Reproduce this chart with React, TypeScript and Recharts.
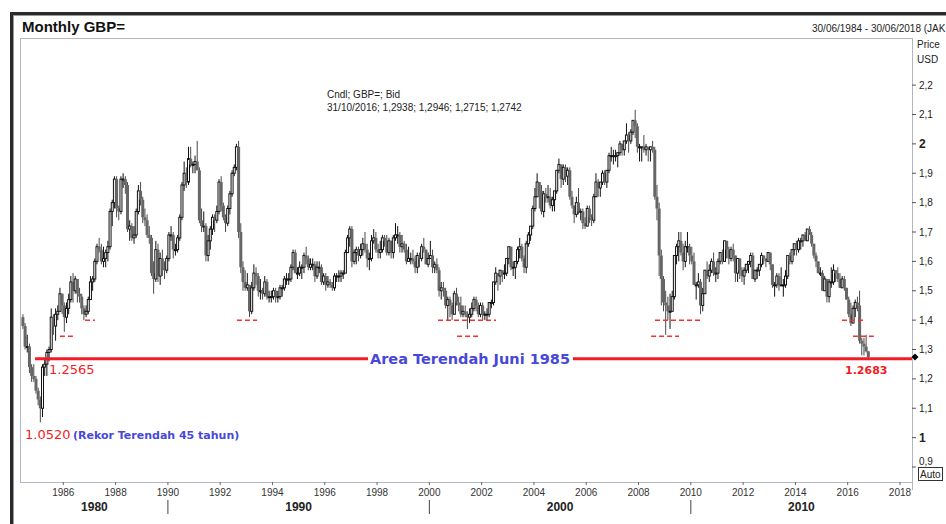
import React from 'react';
import { ComposedChart, Bar, XAxis, YAxis, ReferenceLine, ReferenceDot } from 'recharts';

// monthly candles, each row is [high, low, close]; open = previous close
type HLC = [number, number, number];

const firstOpen = 1.41;
const startYear = 1984;
const startMonth = 6;

const y1984: HLC[] = [[1.42,1.37,1.38],[1.39,1.30,1.31],[1.35,1.29,1.31],[1.32,1.22,1.24],[1.25,1.19,1.21],[1.25,1.19,1.20],[1.21,1.15,1.16]];
const y1985: HLC[] = [[1.17,1.11,1.13],[1.14,1.052,1.10],[1.25,1.07,1.24],[1.27,1.21,1.25],[1.30,1.21,1.29],[1.31,1.26,1.30],[1.44,1.29,1.41],[1.42,1.35,1.38],[1.44,1.33,1.42],[1.45,1.40,1.43],[1.51,1.43,1.49],[1.49,1.42,1.45]];
const y1986: HLC[] = [[1.46,1.36,1.41],[1.46,1.39,1.44],[1.49,1.42,1.47],[1.55,1.46,1.53],[1.56,1.46,1.50],[1.55,1.49,1.54],[1.54,1.46,1.49],[1.51,1.46,1.48],[1.49,1.42,1.44],[1.45,1.40,1.42],[1.45,1.41,1.43],[1.48,1.42,1.47]];
const y1987: HLC[] = [[1.55,1.47,1.53],[1.55,1.50,1.54],[1.61,1.53,1.60],[1.66,1.59,1.65],[1.68,1.63,1.64],[1.66,1.59,1.60],[1.65,1.58,1.61],[1.64,1.58,1.63],[1.67,1.60,1.65],[1.78,1.64,1.77],[1.81,1.72,1.80],[1.89,1.78,1.88]];
const y1988: HLC[] = [[1.89,1.75,1.78],[1.79,1.74,1.77],[1.89,1.76,1.88],[1.90,1.85,1.88],[1.89,1.83,1.86],[1.87,1.70,1.71],[1.74,1.67,1.72],[1.73,1.67,1.68],[1.72,1.66,1.69],[1.78,1.68,1.77],[1.86,1.76,1.84],[1.87,1.79,1.81]];
const y1989: HLC[] = [[1.82,1.73,1.75],[1.78,1.72,1.74],[1.76,1.68,1.69],[1.72,1.66,1.68],[1.69,1.55,1.56],[1.60,1.49,1.54],[1.67,1.53,1.64],[1.66,1.53,1.55],[1.63,1.52,1.61],[1.64,1.55,1.58],[1.60,1.54,1.57],[1.62,1.56,1.61]];
const y1990: HLC[] = [[1.70,1.60,1.69],[1.72,1.67,1.69],[1.70,1.61,1.64],[1.66,1.62,1.64],[1.69,1.63,1.68],[1.76,1.67,1.75],[1.87,1.74,1.86],[1.94,1.84,1.90],[1.92,1.85,1.87],[1.99,1.86,1.95],[1.99,1.92,1.93],[1.94,1.90,1.93]];
const y1991: HLC[] = [[1.96,1.90,1.94],[2.01,1.91,1.91],[1.92,1.73,1.74],[1.78,1.70,1.72],[1.77,1.70,1.72],[1.73,1.60,1.62],[1.69,1.60,1.67],[1.72,1.64,1.71],[1.76,1.69,1.75],[1.76,1.70,1.74],[1.79,1.73,1.77],[1.88,1.76,1.87]];
const y1992: HLC[] = [[1.89,1.77,1.79],[1.80,1.74,1.75],[1.76,1.70,1.73],[1.79,1.72,1.78],[1.84,1.76,1.83],[1.91,1.82,1.90],[1.93,1.89,1.92],[2.00,1.91,1.99],[2.01,1.68,1.70],[1.73,1.56,1.58],[1.60,1.50,1.53],[1.57,1.50,1.51]];
const y1993: HLC[] = [[1.56,1.50,1.52],[1.52,1.41,1.43],[1.53,1.42,1.51],[1.59,1.50,1.56],[1.58,1.52,1.55],[1.56,1.48,1.50],[1.54,1.47,1.50],[1.51,1.47,1.49],[1.55,1.48,1.53],[1.54,1.47,1.48],[1.50,1.46,1.48],[1.50,1.46,1.48]];
const y1994: HLC[] = [[1.51,1.47,1.50],[1.51,1.46,1.48],[1.50,1.46,1.48],[1.52,1.47,1.51],[1.52,1.48,1.51],[1.55,1.50,1.54],[1.56,1.52,1.54],[1.56,1.52,1.54],[1.59,1.53,1.58],[1.64,1.57,1.63],[1.64,1.56,1.56],[1.58,1.54,1.56]];
const y1995: HLC[] = [[1.60,1.55,1.58],[1.59,1.54,1.58],[1.63,1.56,1.62],[1.65,1.59,1.61],[1.62,1.57,1.58],[1.61,1.57,1.59],[1.61,1.57,1.59],[1.60,1.53,1.55],[1.60,1.54,1.58],[1.60,1.56,1.58],[1.59,1.52,1.53],[1.56,1.52,1.55]];
const y1996: HLC[] = [[1.56,1.50,1.52],[1.55,1.51,1.53],[1.54,1.51,1.52],[1.53,1.50,1.51],[1.56,1.50,1.55],[1.56,1.53,1.55],[1.57,1.53,1.55],[1.57,1.53,1.56],[1.57,1.54,1.56],[1.64,1.56,1.63],[1.69,1.63,1.68],[1.72,1.65,1.71]];
const y1997: HLC[] = [[1.72,1.58,1.60],[1.64,1.59,1.63],[1.65,1.59,1.64],[1.65,1.60,1.62],[1.66,1.61,1.64],[1.68,1.62,1.66],[1.70,1.63,1.64],[1.66,1.58,1.61],[1.63,1.57,1.61],[1.69,1.60,1.67],[1.71,1.66,1.68],[1.70,1.63,1.64]];
const y1998: HLC[] = [[1.66,1.61,1.63],[1.67,1.61,1.64],[1.69,1.63,1.68],[1.69,1.65,1.67],[1.69,1.62,1.63],[1.68,1.62,1.67],[1.66,1.61,1.63],[1.69,1.61,1.68],[1.73,1.67,1.69],[1.72,1.66,1.69],[1.70,1.63,1.65],[1.69,1.63,1.66]];
const y1999: HLC[] = [[1.67,1.63,1.64],[1.66,1.59,1.60],[1.65,1.60,1.61],[1.63,1.59,1.61],[1.64,1.59,1.60],[1.62,1.56,1.58],[1.63,1.56,1.62],[1.63,1.58,1.61],[1.66,1.60,1.65],[1.68,1.63,1.64],[1.64,1.59,1.59],[1.63,1.58,1.61]];
const y2000: HLC[] = [[1.67,1.61,1.62],[1.64,1.56,1.58],[1.60,1.56,1.59],[1.61,1.56,1.57],[1.58,1.48,1.50],[1.53,1.47,1.51],[1.53,1.48,1.50],[1.51,1.44,1.45],[1.48,1.40,1.47],[1.48,1.41,1.45],[1.46,1.40,1.42],[1.50,1.42,1.49]];
const y2001: HLC[] = [[1.51,1.45,1.46],[1.48,1.43,1.45],[1.48,1.41,1.42],[1.45,1.41,1.43],[1.45,1.41,1.42],[1.43,1.37,1.41],[1.44,1.39,1.42],[1.46,1.41,1.44],[1.48,1.43,1.47],[1.48,1.43,1.45],[1.46,1.41,1.42],[1.46,1.41,1.45]];
const y2002: HLC[] = [[1.46,1.40,1.42],[1.43,1.40,1.42],[1.44,1.40,1.42],[1.46,1.41,1.46],[1.47,1.44,1.46],[1.53,1.45,1.53],[1.58,1.52,1.56],[1.56,1.50,1.55],[1.57,1.52,1.57],[1.57,1.53,1.56],[1.59,1.54,1.56],[1.61,1.55,1.61]];
const y2003: HLC[] = [[1.65,1.59,1.65],[1.65,1.57,1.58],[1.60,1.55,1.58],[1.60,1.54,1.60],[1.65,1.59,1.64],[1.68,1.61,1.65],[1.66,1.60,1.61],[1.62,1.56,1.58],[1.67,1.56,1.66],[1.70,1.65,1.69],[1.72,1.67,1.72],[1.79,1.71,1.78]];
const y2004: HLC[] = [[1.85,1.77,1.82],[1.90,1.82,1.87],[1.87,1.78,1.84],[1.86,1.76,1.77],[1.84,1.75,1.83],[1.85,1.80,1.82],[1.86,1.80,1.82],[1.85,1.78,1.79],[1.82,1.77,1.81],[1.84,1.77,1.84],[1.91,1.83,1.91],[1.95,1.90,1.93]];
const y2005: HLC[] = [[1.93,1.85,1.88],[1.93,1.86,1.92],[1.93,1.87,1.89],[1.92,1.86,1.91],[1.92,1.81,1.82],[1.84,1.78,1.79],[1.78,1.73,1.76],[1.82,1.75,1.80],[1.85,1.76,1.77],[1.78,1.74,1.77],[1.78,1.71,1.73],[1.75,1.71,1.72]];
const y2006: HLC[] = [[1.79,1.72,1.78],[1.79,1.73,1.75],[1.76,1.72,1.74],[1.83,1.73,1.82],[1.90,1.82,1.87],[1.88,1.82,1.85],[1.87,1.82,1.87],[1.91,1.86,1.90],[1.91,1.86,1.87],[1.91,1.85,1.91],[1.97,1.90,1.96],[1.99,1.94,1.96]];
const y2007: HLC[] = [[1.98,1.93,1.96],[1.98,1.94,1.96],[1.97,1.92,1.97],[2.01,1.96,2.00],[2.00,1.96,1.98],[2.01,1.96,2.01],[2.07,2.00,2.03],[2.04,1.97,2.01],[2.05,2.00,2.04],[2.08,2.03,2.08],[2.116,2.02,2.06],[2.07,1.97,1.99]];
const y2008: HLC[] = [[2.00,1.94,1.99],[1.99,1.94,1.99],[2.03,1.97,1.98],[2.00,1.96,1.99],[1.99,1.94,1.98],[1.99,1.94,1.99],[2.01,1.97,1.98],[1.99,1.81,1.82],[1.86,1.74,1.78],[1.80,1.55,1.62],[1.64,1.45,1.54],[1.55,1.43,1.46]];
const y2009: HLC[] = [[1.50,1.35,1.45],[1.48,1.40,1.43],[1.49,1.37,1.43],[1.50,1.43,1.48],[1.62,1.47,1.62],[1.66,1.59,1.65],[1.70,1.60,1.67],[1.70,1.62,1.63],[1.66,1.57,1.60],[1.67,1.58,1.65],[1.70,1.63,1.65],[1.66,1.59,1.62]];
const y2010: HLC[] = [[1.65,1.59,1.60],[1.63,1.52,1.52],[1.53,1.47,1.52],[1.56,1.51,1.53],[1.54,1.42,1.45],[1.51,1.43,1.49],[1.57,1.49,1.57],[1.60,1.54,1.55],[1.59,1.53,1.57],[1.61,1.56,1.60],[1.63,1.55,1.56],[1.58,1.53,1.56]];
const y2011: HLC[] = [[1.61,1.54,1.60],[1.63,1.59,1.63],[1.64,1.59,1.60],[1.67,1.60,1.67],[1.67,1.61,1.64],[1.65,1.59,1.61],[1.65,1.60,1.64],[1.66,1.60,1.62],[1.62,1.53,1.56],[1.61,1.53,1.61],[1.61,1.54,1.57],[1.58,1.53,1.55]];
const y2012: HLC[] = [[1.58,1.52,1.57],[1.59,1.56,1.59],[1.60,1.56,1.60],[1.63,1.58,1.62],[1.63,1.54,1.54],[1.57,1.53,1.57],[1.58,1.54,1.57],[1.59,1.55,1.59],[1.63,1.58,1.62],[1.62,1.59,1.61],[1.61,1.58,1.60],[1.63,1.60,1.63]];
const y2013: HLC[] = [[1.63,1.57,1.59],[1.59,1.51,1.52],[1.53,1.48,1.52],[1.56,1.51,1.55],[1.56,1.50,1.52],[1.58,1.52,1.52],[1.54,1.48,1.52],[1.57,1.51,1.55],[1.62,1.54,1.62],[1.63,1.59,1.60],[1.64,1.59,1.64],[1.66,1.62,1.66]];
const y2014: HLC[] = [[1.67,1.62,1.64],[1.68,1.63,1.67],[1.68,1.64,1.67],[1.69,1.65,1.69],[1.70,1.67,1.67],[1.71,1.67,1.71],[1.72,1.69,1.69],[1.70,1.65,1.66],[1.66,1.61,1.62],[1.63,1.58,1.60],[1.60,1.56,1.56],[1.58,1.55,1.56]];
const y2015: HLC[] = [[1.57,1.50,1.50],[1.55,1.50,1.54],[1.54,1.46,1.48],[1.54,1.46,1.53],[1.58,1.51,1.53],[1.59,1.52,1.57],[1.57,1.53,1.56],[1.58,1.53,1.54],[1.56,1.51,1.51],[1.55,1.51,1.54],[1.55,1.50,1.51],[1.51,1.47,1.47]];
const y2016: HLC[] = [[1.48,1.41,1.42],[1.46,1.38,1.39],[1.45,1.39,1.44],[1.47,1.41,1.46],[1.48,1.43,1.45],[1.50,1.32,1.33],[1.34,1.28,1.32],[1.34,1.28,1.31],[1.35,1.29,1.2938],[1.2946,1.2715,1.2742]];

const yearRows = [y1984, y1985, y1986, y1987, y1988, y1989, y1990, y1991, y1992, y1993, y1994, y1995, y1996, y1997, y1998, y1999, y2000, y2001, y2002, y2003, y2004, y2005, y2006, y2007, y2008, y2009, y2010, y2011, y2012, y2013, y2014, y2015, y2016];

const xTicks = [1986, 1988, 1990, 1992, 1994, 1996, 1998, 2000, 2002, 2004, 2006, 2008, 2010, 2012, 2014, 2016, 2018];
const priceTicks = [0.9, 1, 1.1, 1.2, 1.3, 1.4, 1.5, 1.6, 1.7, 1.8, 1.9, 2, 2.1, 2.2];
const decadeBreaks = [1990, 2000, 2010];
const decades = [1980, 1990, 2000, 2010];

const lowLine = 1.2683;
// dashed support levels: [from, to, level]
const supportMarks: [number, number, number][] = [
  [1985.87, 1986.41, 1.345],
  [1986.83, 1987.21, 1.40],
  [1992.64, 1993.41, 1.40],
  [2000.33, 2002.55, 1.40],
  [2001.06, 2001.86, 1.345],
  [2008.63, 2010.46, 1.40],
  [2008.48, 2009.55, 1.345],
  [2015.78, 2016.70, 1.40],
  [2016.20, 2017.00, 1.345],
];

const xDomain: [number, number] = [1984.382, 2018.459];
const yDomain: [number, number] = [0.849, 2.357];

const candles: any[] = [];
let prevClose = firstOpen;
yearRows.forEach((rows, yi) => {
  rows.forEach((r, mi) => {
    const month = (yi === 0 ? startMonth - 1 : 0) + mi;
    const open = prevClose;
    const high = Math.max(r[0], open, r[2]);
    const low = Math.min(r[1], open, r[2]);
    candles.push({ t: startYear + yi + (month + 0.5) / 12, open, high, low, close: r[2], range: [low, high] });
    prevClose = r[2];
  });
});
const lastClose = candles[candles.length - 1].close;

const decadeTicks = [
  ...decadeBreaks,
  ...decades.map(d => (Math.max(d, xDomain[0]) + Math.min(d + 10, xDomain[1])) / 2),
];

const sans = '"Liberation Sans", Arial, sans-serif';
const verd = '"DejaVu Sans", Verdana, sans-serif';

const Candle = (props: any) => {
  const { x, y, width, height, payload } = props;
  if (x == null || !payload) return null;
  const { open, close, high, low } = payload;
  const top = Math.min(y, y + height);
  const h = Math.abs(height);
  const k = high > low ? h / (high - low) : 0;
  const cx = x + width / 2;
  const py = (v: number) => top + (high - v) * k;
  const up = close >= open;
  const bTop = py(Math.max(open, close));
  const bh = Math.max(py(Math.min(open, close)) - bTop, 1);
  return (
    <g>
      <line x1={cx} x2={cx} y1={top} y2={top + h} stroke={up ? '#111' : '#4a4a4a'} strokeWidth={1} />
      {up ? (
        <rect x={cx - 1} y={bTop} width={2} height={bh} fill="#fff" stroke="#111" strokeWidth={1} />
      ) : (
        <rect x={cx - 1.5} y={bTop} width={3} height={bh} fill="#666" />
      )}
    </g>
  );
};

const PriceTick = ({ x, y, payload }: any) => {
  const v = payload.value;
  const whole = Math.abs(v - Math.round(v)) < 1e-6;
  // the lowest label sits a little higher, clear of the "Auto" box
  const lift = v < 0.95 ? -6 : 0;
  return (
    <text x={x} y={y + lift} dy={whole ? 4.5 : 3.5} textAnchor="start" fontFamily={sans}
      fontSize={whole ? 12 : 10} fontWeight={whole ? 'bold' : 'normal'} fill="#222">
      {whole ? String(Math.round(v)) : v.toFixed(1).replace('.', ',')}
    </text>
  );
};

const DecadeTick = ({ x, y, payload }: any) => {
  const v = payload.value;
  if (decadeBreaks.includes(v)) {
    return <line x1={x} x2={x} y1={y - 4} y2={y + 10} stroke="#444" strokeWidth={1} />;
  }
  return (
    <text x={x} y={y} dy={7} textAnchor="middle" fontFamily={sans} fontSize={12} fontWeight="bold" fill="#222">
      {Math.floor(v / 10) * 10}
    </text>
  );
};

const Diamond = (p: any) => {
  const cx = p.cx + 3;
  const cy = p.cy;
  return <path d={`M${cx - 3.5},${cy} L${cx},${cy - 3.5} L${cx + 3.5},${cy} L${cx},${cy + 3.5} Z`} fill="#000" />;
};

export default function App() {
  return (
    <div style={{ position: 'absolute', left: 0, top: 0, width: 946, height: 524, overflow: 'hidden', background: '#fff' }}>
      <div style={{ position: 'absolute', left: 10, top: 12, width: 1000, height: 600, border: '3px solid #2a2a2a', boxSizing: 'border-box' }} />
      <div style={{ position: 'absolute', left: 13, top: 15, width: 1000, height: 600, borderLeft: '1px solid #999', borderTop: '1px solid #999' }} />
      <div style={{ position: 'absolute', left: 20, top: 38, width: 893, height: 445, border: '1px solid #b4b4c2', boxSizing: 'border-box' }} />
      <div style={{ position: 'absolute', left: 912, top: 38, width: 1, height: 452, background: '#b4b4c2' }} />
      <div style={{ position: 'absolute', left: 0, top: 0 }}>
        <ComposedChart width={946} height={524} data={candles} margin={{ top: 39, right: 0, left: 21, bottom: 0 }}>
          <XAxis type="number" dataKey="t" domain={xDomain} allowDataOverflow ticks={xTicks} interval={0}
            height={22} axisLine={false} tickSize={3} tickMargin={4} tickLine={{ stroke: '#666' }}
            tick={{ fontSize: 10, fill: '#333', fontFamily: sans }} />
          <XAxis xAxisId="dec" type="number" dataKey="t" domain={xDomain} allowDataOverflow ticks={decadeTicks} interval={0}
            height={20} axisLine={false} tickLine={false} tickSize={0} tickMargin={0} tick={<DecadeTick />} />
          <YAxis orientation="right" domain={yDomain} allowDataOverflow ticks={priceTicks} interval={0} width={34}
            axisLine={false} tickSize={4} tickMargin={3} tickLine={{ stroke: '#555' }} tick={<PriceTick />} />
          <Bar dataKey="range" shape={Candle} barSize={2} isAnimationActive={false} />
          {supportMarks.map(([a, b, lv], i) => (
            <ReferenceLine key={i} segment={[{ x: a, y: lv }, { x: b, y: lv }]} stroke="#f03232"
              strokeWidth={1.5} strokeDasharray="5 3" ifOverflow="visible" />
          ))}
          <ReferenceLine segment={[{ x: 1984.92, y: lowLine }, { x: xDomain[1], y: lowLine }]} stroke="#f41c24"
            strokeWidth={3} ifOverflow="visible" />
          <ReferenceDot x={xDomain[1]} y={lastClose} r={4} ifOverflow="visible" shape={Diamond} />
        </ComposedChart>
      </div>
      <svg width={946} height={524} style={{ position: 'absolute', left: 0, top: 0, pointerEvents: 'none' }}>
        <text x={22} y={31.5} fontFamily={sans} fontSize={15} fontWeight="bold" fill="#111">Monthly GBP=</text>
        <text x={812} y={31.5} fontFamily={sans} fontSize={10} fill="#222">30/06/1984 - 30/06/2018 (JAK</text>
        <text x={917} y={48} fontFamily={sans} fontSize={10} fill="#222">Price</text>
        <text x={917} y={63} fontFamily={sans} fontSize={10} fill="#222">USD</text>
        <text x={327} y={98} fontFamily={sans} fontSize={10} fill="#222">Cndl; GBP=; Bid</text>
        <text x={327} y={111} fontFamily={sans} fontSize={10} fill="#222">31/10/2016; 1,2938; 1,2946; 1,2715; 1,2742</text>
        <rect x={368} y={350} width={205} height={18} fill="#fff" />
        <text x={470} y={363.5} textAnchor="middle" fontFamily={verd} fontSize={14.5} fontWeight="bold" fill="#4848d8">Area Terendah Juni 1985</text>
        <text x={49} y={373.5} fontFamily={verd} fontSize={13} fill="#f41c24">1.2565</text>
        <text x={845} y={373.5} fontFamily={verd} fontSize={11} fontWeight="bold" fill="#f41c24">1.2683</text>
        <text x={25} y={439} fontFamily={verd} fontSize={13} fill="#f41c24">1.0520</text>
        <text x={73} y={439} fontFamily={verd} fontSize={11} fontWeight="bold" fill="#4848d8">(Rekor Terendah 45 tahun)</text>
        <rect x={918.5} y={467.5} width={24} height={13} fill="#fff" stroke="#333" />
        <text x={920} y={477.5} fontFamily={sans} fontSize={10} fill="#222">Auto</text>
      </svg>
    </div>
  );
}
